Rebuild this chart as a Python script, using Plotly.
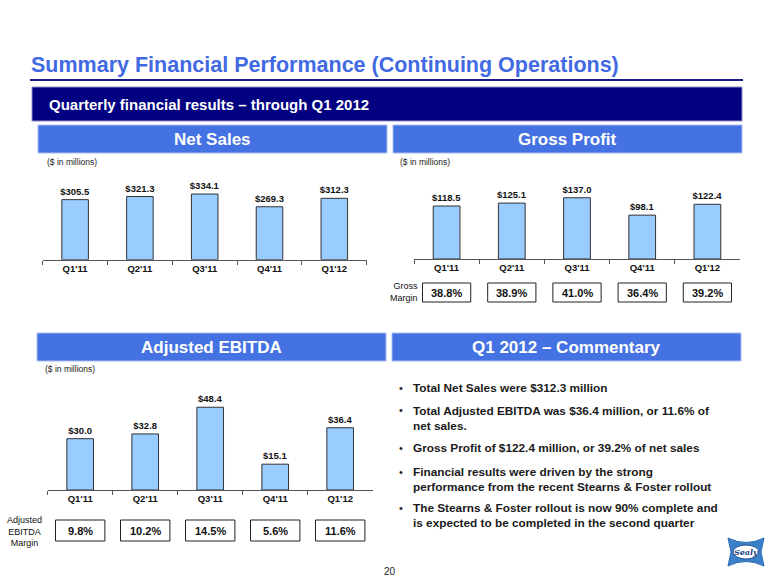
import plotly.graph_objects as go

W, H = 780, 585

quarters = ["Q1'11", "Q2'11", "Q3'11", "Q4'11", "Q1'12"]
net_sales = [305.5, 321.3, 334.1, 269.3, 312.3]
gross_profit = [118.5, 125.1, 137.0, 98.1, 122.4]
gross_margin = ["38.8%", "38.9%", "41.0%", "36.4%", "39.2%"]
adj_ebitda = [30.0, 32.8, 48.4, 15.1, 36.4]
ebitda_margin = ["9.8%", "10.2%", "14.5%", "5.6%", "11.6%"]

title_text = "Summary Financial Performance (Continuing Operations)"
subtitle_text = "Quarterly financial results \u2013 through Q1 2012"
headers = ["Net Sales", "Gross Profit", "Adjusted EBITDA", "Q1 2012 \u2013 Commentary"]
unit_note = "($ in millions)"
bullets = [
    ["Total Net Sales were $312.3 million"],
    ["Total Adjusted EBITDA was $36.4 million, or 11.6% of", "net sales."],
    ["Gross Profit of $122.4 million, or 39.2% of net sales"],
    ["Financial results were driven by the strong", "performance from the recent Stearns & Foster rollout"],
    ["The Stearns & Foster rollout is now 90% complete and", "is expected to be completed in the second quarter"],
]

FONT = "Liberation Sans, Arial, sans-serif"
ROYAL = "#4472E2"
NAVY = "#000080"
BAR = "#99CCFF"


def px(x):
    return x / W


def py(y):
    return 1 - y / H


fig = go.Figure()

# panels: (axis suffix, x0, x1, baseline y, top y, px per unit, values)
panels = [
    ("", 42.7, 366.7, 259.7, 175.0, 0.1966, net_sales),
    ("2", 414.0, 740.0, 259.0, 175.0, 0.447, gross_profit),
    ("3", 47.7, 372.7, 490.0, 380.0, 1.71, adj_ebitda),
]

layout_axes = {}
for suf, x0, x1, yb, yt, scale, vals in panels:
    fig.add_trace(go.Bar(
        x=quarters, y=vals, xaxis="x" + suf, yaxis="y" + suf,
        width=0.41,
        marker=dict(color=BAR, line=dict(color="#333333", width=1)),
        text=[f"${v:.1f}" for v in vals], textposition="outside",
        constraintext="none",
        textfont=dict(family=FONT, size=9.5, color="#111111", weight="bold"),
        cliponaxis=False, showlegend=False, hoverinfo="skip",
    ))
    layout_axes["xaxis" + suf] = dict(
        domain=[px(x0), px(x1)], anchor="y" + suf, type="category",
        range=[-0.5, 4.5], showline=True, linecolor="#555555", linewidth=1,
        ticks="outside", ticklen=4, tickcolor="#555555", tickson="boundaries",
        tickfont=dict(family=FONT, size=9.5, color="#111111", weight="bold"),
        showgrid=False, zeroline=False, fixedrange=True,
    )
    layout_axes["yaxis" + suf] = dict(
        domain=[py(yb), py(yt)], anchor="x" + suf,
        range=[0, (yb - yt) / scale], visible=False, showgrid=False,
        fixedrange=True,
    )

shapes = []
ann = []

# title
ann.append(dict(x=px(29), y=py(65), xref="paper", yref="paper", xanchor="left",
                yanchor="middle", text="<b>" + title_text + "</b>", showarrow=False,
                font=dict(family=FONT, size=21.5, color="#4169E1")))
shapes.append(dict(type="line", xref="paper", yref="paper", x0=px(30), x1=px(743),
                   y0=py(80), y1=py(80), line=dict(color="#1a1a8c", width=2)))
# subtitle bar
shapes.append(dict(type="rect", xref="paper", yref="paper", x0=px(32), x1=px(742),
                   y0=py(87), y1=py(121), fillcolor=NAVY, line=dict(color="#9090c8", width=1)))
ann.append(dict(x=px(47), y=py(104), xref="paper", yref="paper", xanchor="left",
                yanchor="middle", text="<b>" + subtitle_text + "</b>", showarrow=False,
                font=dict(family=FONT, size=15, color="white")))

# section headers
hdr_boxes = [(38, 387, 125, 153), (393, 742, 125, 153), (37, 386, 333, 361), (392, 741, 333, 361)]
for (x0, x1, y0, y1), t in zip(hdr_boxes, headers):
    shapes.append(dict(type="rect", xref="paper", yref="paper", x0=px(x0), x1=px(x1),
                       y0=py(y0), y1=py(y1), fillcolor=ROYAL, line=dict(color="#a8bdf0", width=1)))
    ann.append(dict(x=px((x0 + x1) / 2), y=py((y0 + y1) / 2), xref="paper", yref="paper",
                    xanchor="center", yanchor="middle", text="<b>" + t + "</b>", showarrow=False,
                    font=dict(family=FONT, size=17, color="white")))

# unit notes
for x, y in [(45, 162), (398, 162), (43, 369)]:
    ann.append(dict(x=px(x), y=py(y), xref="paper", yref="paper", xanchor="left",
                    yanchor="middle", text=unit_note, showarrow=False,
                    font=dict(family=FONT, size=8.5, color="#222222")))

# margin boxes
for suf, labels, y0, y1, half in [("2", gross_margin, 283, 302, 0.37), ("3", ebitda_margin, 520, 541, 0.38)]:
    for i, lab in enumerate(labels):
        shapes.append(dict(type="rect", xref="x" + suf, yref="paper", x0=i - half, x1=i + half,
                           y0=py(y0), y1=py(y1), fillcolor="white",
                           line=dict(color="#222222", width=1)))
        ann.append(dict(x=quarters[i], y=py((y0 + y1) / 2), xref="x" + suf, yref="paper",
                        xanchor="center", yanchor="middle", text="<b>" + lab + "</b>",
                        showarrow=False, font=dict(family=FONT, size=11, color="#111111")))

ann.append(dict(x=px(420), y=py(292), xref="paper", yref="paper", xanchor="right",
                yanchor="middle", align="right", text="Gross<br>Margin", showarrow=False,
                font=dict(family=FONT, size=9, color="#111111")))
ann.append(dict(x=px(25), y=py(531), xref="paper", yref="paper", xanchor="center",
                yanchor="middle", align="center", text="Adjusted<br>EBITDA<br>Margin",
                showarrow=False, font=dict(family=FONT, size=9, color="#111111")))

# commentary bullets
bullet_ys = [388, 418, 448, 479, 515.5]
first_line_ys = [388, 410.5, 448, 471.5, 508]
for lines, yc, y1 in zip(bullets, bullet_ys, first_line_ys):
    ann.append(dict(x=px(401.5), y=py(y1), xref="paper", yref="paper", xanchor="center",
                    yanchor="middle", text="\u2022", showarrow=False,
                    font=dict(family=FONT, size=11, color="#222222")))
    ann.append(dict(x=px(410.5), y=py(yc), xref="paper", yref="paper", xanchor="left",
                    yanchor="middle", align="left",
                    text="<br>".join("<b>" + t + "</b>" for t in lines), showarrow=False,
                    font=dict(family=FONT, size=11.8, color="#1a1a1a")))

# page number
ann.append(dict(x=px(390), y=py(571), xref="paper", yref="paper", xanchor="center",
                yanchor="middle", text="20", showarrow=False,
                font=dict(family=FONT, size=10, color="#222222")))

# Sealy logo
def P(x, y):
    return f"{px(x):.5f},{py(y):.5f}"

logo_path = (f"M {P(728,538)} Q {P(746,547)} {P(764,538)} L {P(761,552)} L {P(764,566)} "
             f"Q {P(746,557)} {P(728,566)} L {P(731,552)} Z")
shapes.append(dict(type="path", xref="paper", yref="paper", path=logo_path,
                   fillcolor="#3b7fc8", line=dict(color="#2c6cb4", width=1)))
shapes.append(dict(type="circle", xref="paper", yref="paper", x0=px(733), x1=px(759),
                   y0=py(545), y1=py(559), fillcolor="white", line=dict(color="#1f4f99", width=1)))
ann.append(dict(x=px(746), y=py(552), xref="paper", yref="paper", xanchor="center",
                yanchor="middle", text="<b><i>Sealy</i></b>", showarrow=False,
                font=dict(family="DejaVu Serif, serif", size=8, color="#1f3f80")))

fig.update_layout(
    width=W, height=H, margin=dict(l=0, r=0, t=0, b=0),
    paper_bgcolor="white", plot_bgcolor="white",
    shapes=shapes, annotations=ann, bargap=0.5,
    font=dict(family=FONT),
    **layout_axes,
)

fig.write_html("out.html", config={"displayModeBar": False},
               post_script="document.body.style.margin='0';document.body.style.overflow='hidden';")
